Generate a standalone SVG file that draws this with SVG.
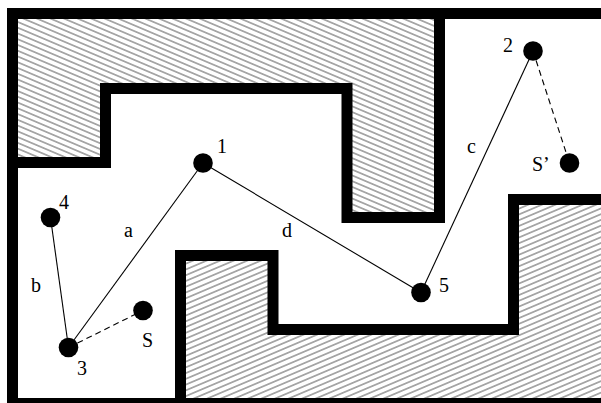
<svg xmlns="http://www.w3.org/2000/svg" width="601" height="403" viewBox="0 0 601 403">
<style>
.wall{fill:none;stroke:#000;stroke-width:11;stroke-linejoin:miter;stroke-linecap:square}
.edge{stroke:#000;stroke-width:1.1;fill:none}
.dash{stroke-dasharray:6 4}
.node{fill:#000}
text{font-family:"Liberation Serif","Times New Roman",serif;font-size:20px;fill:#000}
</style>
<defs>
<pattern id="hatchDown" patternUnits="userSpaceOnUse" width="10" height="5.3" patternTransform="rotate(23)">
<line x1="-1" y1="2.65" x2="11" y2="2.65" stroke="#2a2a2a" stroke-width="0.8"/>
</pattern>
<pattern id="hatchUp" patternUnits="userSpaceOnUse" width="10" height="5.3" patternTransform="rotate(-23)">
<line x1="-1" y1="2.65" x2="11" y2="2.65" stroke="#2a2a2a" stroke-width="0.8"/>
</pattern>
</defs>
<rect width="601" height="403" fill="#fff"/>
<g id="obstacle-top">
<path d="M12.5,13.5 L439.5,13.5 L439.5,217.5 L347,217.5 L347,88.5 L105.5,88.5 L105.5,162.5 L12.5,162.5 Z" fill="url(#hatchDown)"/>
<path class="wall" d="M12.5,162.5 L105.5,162.5 L105.5,88.5 L347,88.5 L347,217.5 L439.5,217.5 L439.5,13.5"/>
</g>
<g id="obstacle-bottom">
<path d="M180.5,403.5 L180.5,255.5 L273,255.5 L273,329.5 L513.5,329.5 L513.5,199.5 L615,199.5 L615,403.5 Z" fill="url(#hatchUp)"/>
<path class="wall" d="M180.5,403.5 L180.5,255.5 L273,255.5 L273,329.5 L513.5,329.5 L513.5,199.5 L615,199.5"/>
</g>
<g id="border">
<path class="wall" d="M615,13.5 L12.5,13.5 L12.5,403.5 L615,403.5"/>
</g>
<g id="connectors">
<line class="edge" x1="203" y1="163" x2="68.5" y2="347.5"/>
<line class="edge" x1="50.5" y1="217.5" x2="68.5" y2="347.5"/>
<line class="edge" x1="203" y1="163" x2="421" y2="292.5"/>
<line class="edge" x1="533" y1="51" x2="421" y2="292.5"/>
<line class="edge dash" x1="68.5" y1="347.5" x2="143" y2="310.5"/>
<line class="edge dash" x1="533" y1="51" x2="569.5" y2="163"/>
</g>
<g id="node-1"><circle class="node" cx="203" cy="163" r="9.8"/><text x="217" y="153">1</text></g>
<g id="node-2"><circle class="node" cx="533" cy="51" r="9.8"/><text x="503" y="52">2</text></g>
<g id="node-3"><circle class="node" cx="68.5" cy="347.5" r="9.8"/><text x="77" y="375">3</text></g>
<g id="node-4"><circle class="node" cx="50.5" cy="217.5" r="9.8"/><text x="59" y="209">4</text></g>
<g id="node-5"><circle class="node" cx="421" cy="292.5" r="9.8"/><text x="439" y="292">5</text></g>
<g id="node-S"><circle class="node" cx="143" cy="310.5" r="9.8"/><text x="142" y="347">S</text></g>
<g id="node-S2"><circle class="node" cx="569.5" cy="163" r="9.8"/><text x="532" y="171">S’</text></g>
<g id="edge-labels">
<text x="124" y="237">a</text>
<text x="31" y="292">b</text>
<text x="467" y="153">c</text>
<text x="282" y="237">d</text>
</g>
</svg>
